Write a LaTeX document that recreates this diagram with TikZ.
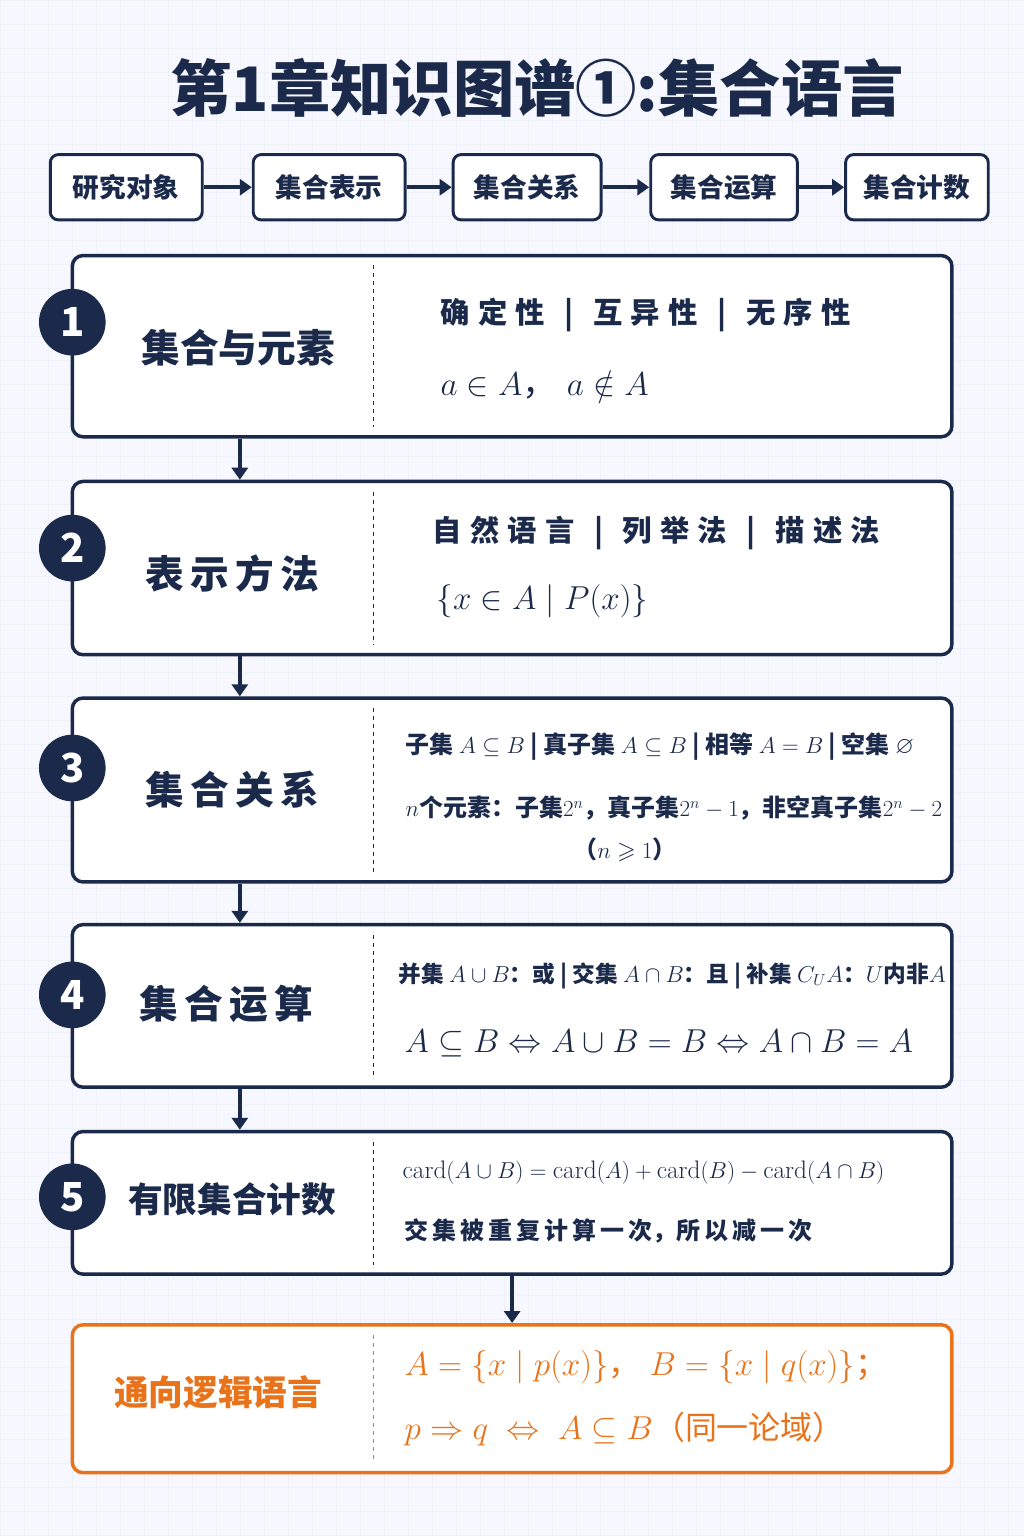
\documentclass[tikz,border=0pt]{standalone}
\usepackage{amsmath,amssymb}
\usepackage{fontspec}
\setmainfont{Noto Sans CJK SC}
\newfontfamily\lmr{Latin Modern Roman}
\usetikzlibrary{arrows.meta,positioning}
\definecolor{navy}{HTML}{1B2A4A}
\definecolor{org}{HTML}{E8731A}
\definecolor{gridc}{HTML}{EEF1F5}
\newcommand{\crd}{\text{\lmr card}}
\tikzset{every picture/.style={line width=0.75pt}}
\tikzset{
  box/.style={draw=navy,line width=2.6pt,rounded corners=8pt,fill=white,minimum width=660pt},
  topbox/.style={draw=navy,line width=2.2pt,rounded corners=6pt,fill=white,minimum height=49pt,font=\fontsize{20}{24}\selectfont\bfseries,text=navy},
  num/.style={circle,fill=navy,text=white,minimum size=50pt,inner sep=0pt,font=\fontsize{30}{30}\selectfont\bfseries},
  lbl/.style={text=navy,font=\fontsize{29}{32}\selectfont\bfseries},
  txt/.style={anchor=west,text=navy,inner sep=0pt,font=\fontsize{22}{26}\selectfont\bfseries},
  sml/.style={anchor=west,text=navy,inner sep=0pt,font=\fontsize{18}{21}\selectfont\bfseries},
  arr/.style={draw=navy,line width=3pt,-{Triangle[length=9pt,width=12pt]}},
  divline/.style={draw=navy,dashed,line width=0.9pt}
}
\begin{document}
\begin{tikzpicture}[x=0.75pt,y=0.75pt,yscale=-1,xscale=1]
\fill[white!97!blue] (0,0) rectangle (1024,1536);
\draw[gridc,line width=0.5pt] (0,0) grid[step=24] (1024,1536);
\useasboundingbox (0,0) rectangle (1024,1536);

% title
\node[text=navy,font=\fontsize{46}{50}\selectfont\bfseries] (title) at (537,88) {第1章知识图谱①:集合语言};

% top row
\node[topbox,minimum width=114pt] (t1) at (126,187) {研究对象};
\node[topbox,minimum width=114pt] (t2) at (329,187) {集合表示};
\node[topbox,minimum width=111pt] (t3) at (527,187) {集合关系};
\node[topbox,minimum width=110pt] (t4) at (724,187) {集合运算};
\node[topbox,minimum width=107pt] (t5) at (917,187) {集合计数};
\foreach \a/\b in {t1/t2,t2/t3,t3/t4,t4/t5}
  \draw[arr] (\a) -- (\b);

% main boxes
\node[box,minimum height=136pt] (b1) at (512,346) {};
\node[box,minimum height=130pt] (b2) at (512,568) {};
\node[box,minimum height=138pt] (b3) at (512,790) {};
\node[box,minimum height=122pt] (b4) at (512,1006) {};
\node[box,minimum height=107pt] (b5) at (512,1203) {};
\node[box,draw=org,minimum height=111pt] (b6) at (512,1399) {};

\foreach \a/\b in {b1/b2,b2/b3,b3/b4,b4/b5}
  \draw[arr] ([xshift=127pt]\a.south west) -- ([xshift=127pt]\b.north west);
\draw[arr] (b5.south) -- (b6.north);

% dividers
\foreach \ya/\yb in {265/427,492/645,708/872,935/1078,1142/1265}
  \draw[divline] (373,\ya) -- (373,\yb);
\draw[divline,draw=org] (373,1335) -- (373,1463);

% numbers
\node[num] (n1) at (72,322) {1};
\node[num] (n2) at (72,548) {2};
\node[num] (n3) at (72,768) {3};
\node[num] (n4) at (72,995) {4};
\node[num] (n5) at (72,1197) {5};

% left labels
\node[lbl] (l1) at (238,348) {集合与元素};
\node[lbl] (l2) at (232,573) {表\,示\,方\,法};
\node[lbl] (l3) at (232,790) {集\,合\,关\,系};
\node[lbl] (l4) at (226,1004) {集\,合\,运\,算};
\node[lbl,font=\fontsize{26}{30}\selectfont\bfseries] (l5) at (232,1200) {有限集合计数};
\node[lbl,text=org,font=\fontsize{26}{30}\selectfont\bfseries] (l6) at (218,1393) {通向逻辑语言};

% right texts
\node[txt] (r11) at (440,315) {确\;定\;性 \;\,|\;\, 互\;异\;性 \;\,|\;\, 无\;序\;性};
\node[txt,font=\fontsize{26}{30}\selectfont] (r12) at (440,385) {$a\in A$，\;$a\notin A$};
\node[txt] (r21) at (432,533) {自\;然\;语\;言 \;\,|\;\, 列\;举\;法 \;\,|\;\, 描\;述\;法};
\node[txt,font=\fontsize{26}{30}\selectfont] (r22) at (436,601) {$\{x\in A\mid P(x)\}$};
\node[sml] (r31) at (405,747) {子集 $A\subseteq B$ | 真子集 $A\subseteq B$ | 相等 $A=B$ | 空集 $\varnothing$};
\node[sml] (r32) at (405,808) {$n$个元素：子集$2^n$，真子集$2^n-1$，非空真子集$2^n-2$};
\node[sml,anchor=center] (r33) at (625,850) {（$n\geqslant1$）};
\node[sml,font=\fontsize{17}{20}\selectfont\bfseries] (r41) at (398,976) {并集 $A\cup B$：或 | 交集 $A\cap B$：且 | 补集 $C_UA$：$U$内非$A$};
\node[txt,font=\fontsize{23}{28}\selectfont] (r42) at (404,1044) {$A\subseteq B\Leftrightarrow A\cup B=B\Leftrightarrow A\cap B=A$};
\node[sml,font=\fontsize{19}{24}\selectfont] (r51) at (402,1173) {$\crd(A\cup B)=\crd(A)+\crd(B)-\crd(A\cap B)$};
\node[sml] (r52) at (404,1231) {交\,集\,被\,重\,复\,计\,算\,一\,次，所\,以\,减\,一\,次};
\node[txt,text=org,font=\fontsize{24}{28}\selectfont] (r61) at (404,1367) {$A=\{x\mid p(x)\}$，\;$B=\{x\mid q(x)\}$；};
\node[txt,text=org,font=\fontsize{24}{28}\selectfont] (r62) at (404,1429) {$p\Rightarrow q\;\Leftrightarrow\;A\subseteq B$（同一论域）};
\end{tikzpicture}
\end{document}
